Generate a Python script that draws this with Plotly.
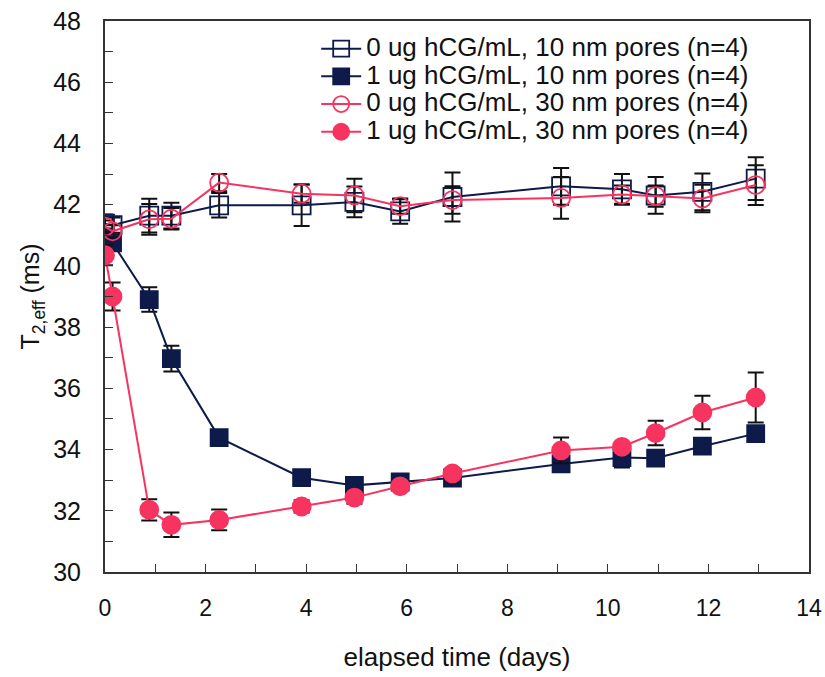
import plotly.graph_objects as go

# elapsed time (days) at each measurement
days = [0, 0.15, 0.88, 1.32, 2.27, 3.91, 4.96, 5.87, 6.91, 9.07, 10.28, 10.95, 11.88, 12.94]

# T2,eff means (ms) and error half-widths for each condition
t2_0ug_10nm = [41.38, 41.33, 41.64, 41.64, 41.98, 41.98, 42.09, 41.78, 42.25, 42.60, 42.50, 42.30, 42.42, 42.85]
err_0ug_10nm = [0.30, 0.25, 0.55, 0.42, 0.40, 0.68, 0.50, 0.40, 0.80, 0.60, 0.50, 0.60, 0.60, 0.70]

t2_1ug_10nm = [40.92, 40.75, 38.90, 36.97, 34.39, 33.08, 32.83, 32.94, 33.07, 33.53, 33.74, 33.72, 34.11, 34.52]
err_1ug_10nm = [0.30, 0.20, 0.40, 0.42, 0.12, 0.12, 0.12, 0.15, 0.12, 0.15, 0.33, 0.20, 0.12, 0.15]

t2_0ug_30nm = [41.28, 41.13, 41.52, 41.54, 42.72, 42.36, 42.30, 41.95, 42.15, 42.22, 42.33, 42.28, 42.20, 42.64]
err_0ug_30nm = [0.20, 0.20, 0.50, 0.35, 0.28, 0.30, 0.55, 0.25, 0.45, 0.68, 0.30, 0.35, 0.45, 0.65]

t2_1ug_30nm = [40.35, 39.00, 32.03, 31.54, 31.70, 32.14, 32.43, 32.80, 33.22, 33.97, 34.09, 34.54, 35.21, 35.70]
err_1ug_30nm = [0.33, 0.46, 0.35, 0.40, 0.34, 0.20, 0.20, 0.12, 0.15, 0.42, 0.15, 0.40, 0.55, 0.82]

series_names = [
    "0 ug hCG/mL, 10 nm pores (n=4)",
    "1 ug hCG/mL, 10 nm pores (n=4)",
    "0 ug hCG/mL, 30 nm pores (n=4)",
    "1 ug hCG/mL, 30 nm pores (n=4)",
]

NAVY = "#0d1a4a"
PINK = "#f7335f"
FONT = "Liberation Sans, Arial, sans-serif"

styles = [
    dict(y=t2_0ug_10nm, e=err_0ug_10nm, color=NAVY, symbol="square-open", size=18),
    dict(y=t2_1ug_10nm, e=err_1ug_10nm, color=NAVY, symbol="square", size=17),
    dict(y=t2_0ug_30nm, e=err_0ug_30nm, color=PINK, symbol="circle-open", size=18),
    dict(y=t2_1ug_30nm, e=err_1ug_30nm, color=PINK, symbol="circle", size=18),
]

fig = go.Figure()
for name, s in zip(series_names, styles):
    fig.add_trace(go.Scatter(
        x=days, y=s["y"], mode="lines+markers",
        # legend rows stay compact while the entry text is set larger
        name=f'<span style="font-size:26px">{name}</span>',
        line=dict(color=s["color"], width=2),
        marker=dict(symbol=s["symbol"], size=s["size"], color=s["color"],
                    line=dict(color=s["color"], width=1.8)),
        error_y=dict(type="data", array=s["e"], visible=True,
                     color="#111111", thickness=2, width=8),
    ))

axis_common = dict(
    showline=True, linecolor="#333333", linewidth=2, mirror=True,
    ticks="inside", ticklen=8, tickcolor="#333333", tickwidth=1,
    showgrid=False, zeroline=False, automargin=False,
)

fig.update_layout(
    width=825, height=677,
    margin=dict(l=105, r=16, t=21, b=105),
    paper_bgcolor="white", plot_bgcolor="white",
    font=dict(family=FONT, size=22, color="#111111"),
    showlegend=True,
    legend=dict(x=0.30, y=0.984, xanchor="left", yanchor="top",
                bgcolor="rgba(0,0,0,0)", font=dict(family=FONT, size=19),
                tracegroupgap=0, itemwidth=40),
    xaxis=dict(range=[0, 14], dtick=2, tick0=0,
               minor=dict(dtick=1, ticks="inside", ticklen=8, tickcolor="#333333"),
               tickfont=dict(family=FONT, size=23), ticklabelstandoff=14,
               title=dict(text="elapsed time (days)", font=dict(family=FONT, size=26), standoff=28),
               **axis_common),
    yaxis=dict(range=[30, 48], dtick=2, tick0=30,
               minor=dict(dtick=1, ticks="inside", ticklen=8, tickcolor="#333333"),
               tickfont=dict(family=FONT, size=25), ticklabelstandoff=17,
               title=dict(text="T<sub>2,eff</sub> (ms)", font=dict(family=FONT, size=25), standoff=6),
               **axis_common),
)

fig.write_html("out.html")
